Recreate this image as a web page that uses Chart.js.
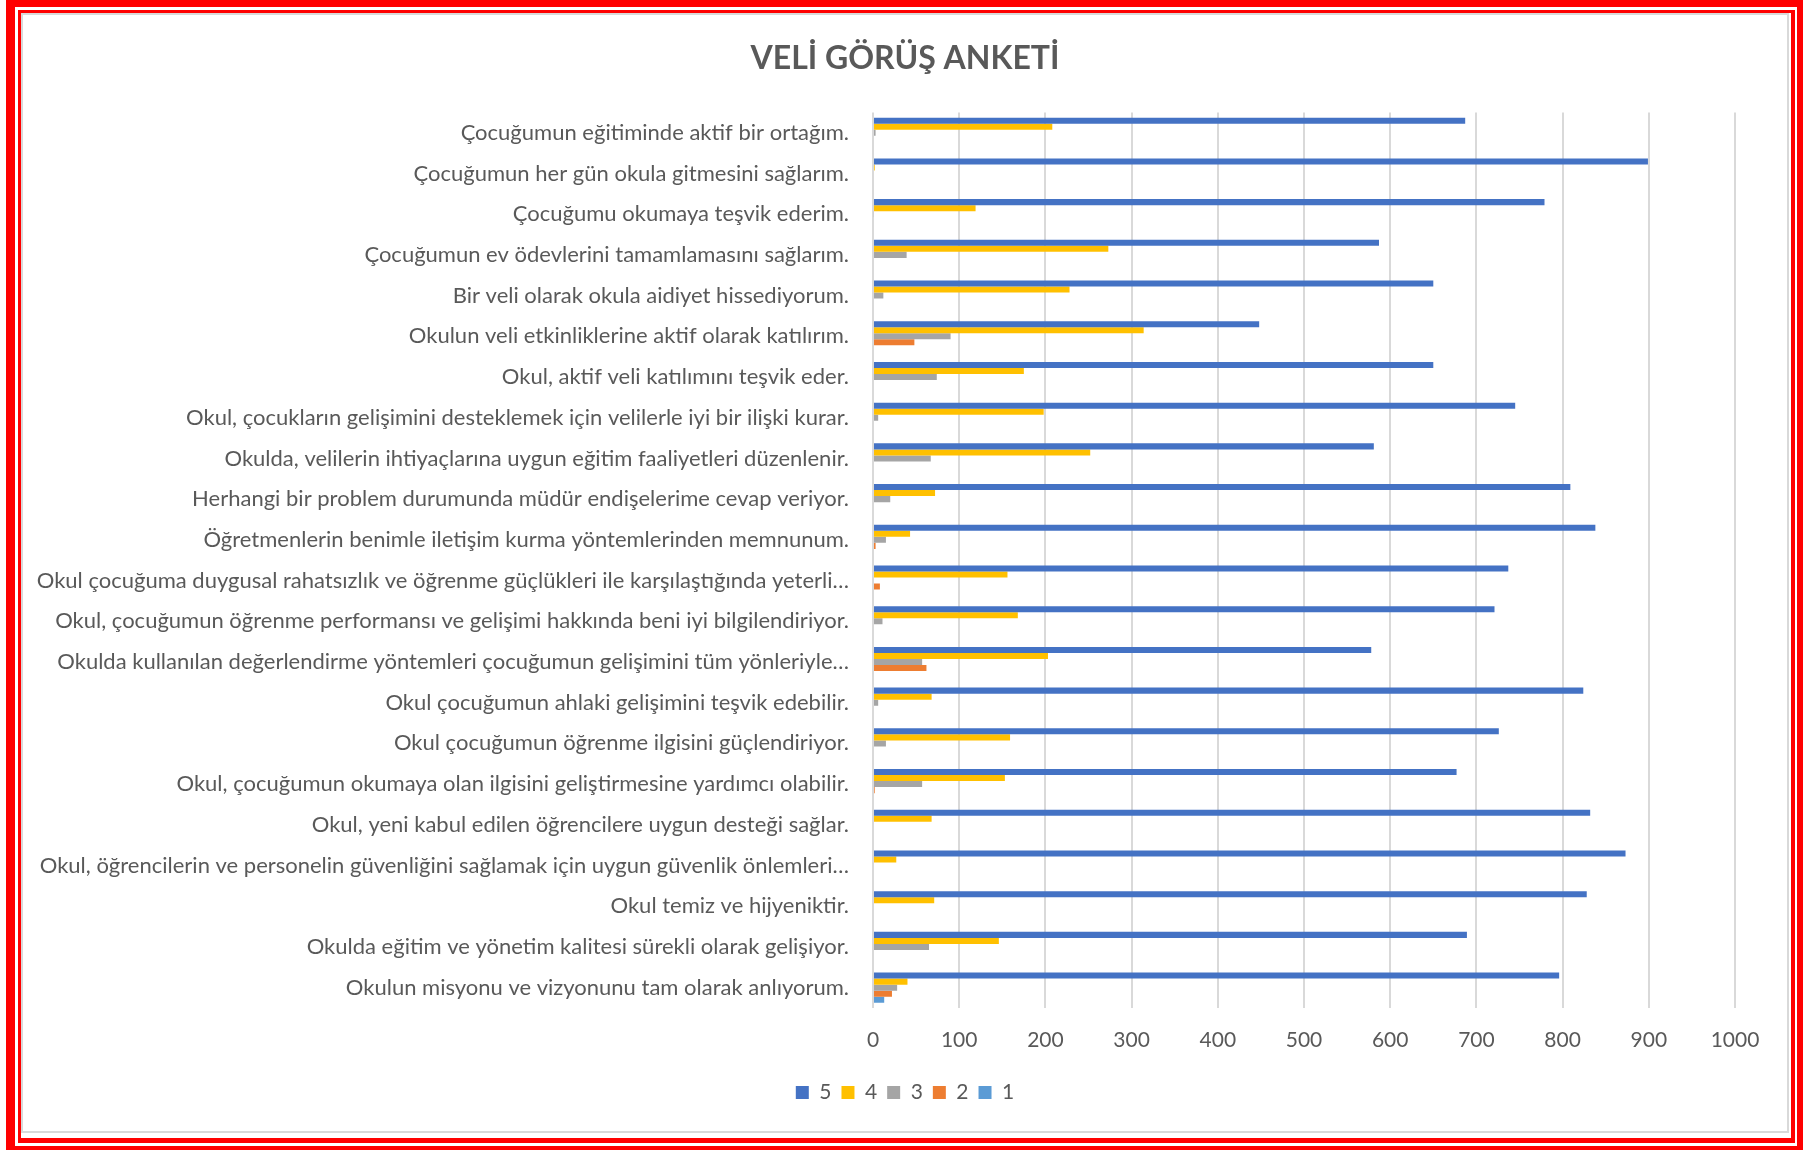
<!DOCTYPE html>
<html lang="tr">
<head>
<meta charset="utf-8">
<title>VELİ GÖRÜŞ ANKETİ</title>
<script src="https://cdn.jsdelivr.net/npm/chart.js@4.4.1/dist/chart.umd.min.js"></script>
<style>
  html, body { margin: 0; padding: 0; background: #fff; }
  body { width: 1803px; height: 1150px; position: relative; overflow: hidden; }
  .outer { position: absolute; left: 6px; top: 0; width: 1782px; height: 1139px;
           border-style: solid; border-color: #ff0000; border-width: 7px 6px 4px 9px; }
  .inner { position: absolute; left: 18px; top: 10px; width: 1770px; height: 1125px;
           border-style: solid; border-color: #ff0000; border-width: 3px 4px 5px 3px; background: #fff; }
  .frame { position: absolute; left: 21px; top: 13px; width: 1764px; height: 1116px;
           border: 2px solid #d9d9d9; background: #fff; }
  #chart { position: absolute; left: 23px; top: 15px; }
</style>
</head>
<body>
<div class="outer"></div>
<div class="inner"></div>
<div class="frame"></div>
<canvas id="chart" width="1764" height="1116"></canvas>
<script>
const questions = [
    "Çocuğumun eğitiminde aktif bir ortağım.",
    "Çocuğumun her gün okula gitmesini sağlarım.",
    "Çocuğumu okumaya teşvik ederim.",
    "Çocuğumun ev ödevlerini tamamlamasını sağlarım.",
    "Bir veli olarak okula aidiyet hissediyorum.",
    "Okulun veli etkinliklerine aktif olarak katılırım.",
    "Okul, aktif veli katılımını teşvik eder.",
    "Okul, çocukların gelişimini desteklemek için velilerle iyi bir ilişki kurar.",
    "Okulda, velilerin ihtiyaçlarına uygun eğitim faaliyetleri düzenlenir.",
    "Herhangi bir problem durumunda müdür endişelerime cevap veriyor.",
    "Öğretmenlerin benimle iletişim kurma yöntemlerinden memnunum.",
    "Okul çocuğuma duygusal rahatsızlık ve öğrenme güçlükleri ile karşılaştığında yeterli…",
    "Okul, çocuğumun öğrenme performansı ve gelişimi hakkında beni iyi bilgilendiriyor.",
    "Okulda kullanılan değerlendirme yöntemleri çocuğumun gelişimini tüm yönleriyle…",
    "Okul çocuğumun ahlaki gelişimini teşvik edebilir.",
    "Okul çocuğumun öğrenme ilgisini güçlendiriyor.",
    "Okul, çocuğumun okumaya olan ilgisini geliştirmesine yardımcı olabilir.",
    "Okul, yeni kabul edilen öğrencilere uygun desteği sağlar.",
    "Okul, öğrencilerin ve personelin güvenliğini sağlamak için uygun güvenlik önlemleri…",
    "Okul temiz ve hijyeniktir.",
    "Okulda eğitim ve yönetim kalitesi sürekli olarak gelişiyor.",
    "Okulun misyonu ve vizyonunu tam olarak anlıyorum."
];

// answer counts per score (5 = best)
const score5 = [687, 899, 779, 587, 650, 448, 650, 745, 581, 809, 838, 737, 721, 578, 824, 726, 677, 832, 873, 828, 689, 796];
const score4 = [208, 2, 119, 273, 228, 314, 175, 198, 252, 72, 43, 156, 168, 203, 68, 159, 153, 68, 27, 71, 146, 40];
const score3 = [3, 0, 1, 39, 12, 90, 74, 6, 67, 20, 15, 0, 11, 57, 6, 15, 57, 0, 0, 0, 65, 28];
const score2 = [0, 0, 0, 0, 0, 48, 0, 0, 0, 0, 3, 8, 0, 62, 0, 0, 2, 0, 0, 0, 0, 22];
const score1 = [0, 0, 0, 0, 0, 0, 0, 0, 0, 0, 0, 0, 0, 0, 0, 0, 0, 0, 0, 0, 0, 13];

const seriesNames = ["5", "4", "3", "2", "1"];
const seriesColors = ["#4472C4", "#FFC000", "#A5A5A5", "#ED7D31", "#5B9BD5"];
const xTicks = [0, 100, 200, 300, 400, 500, 600, 700, 800, 900, 1000];

const textGray = "#595959";
const fontName = "Lato";

const allScores = [score5, score4, score3, score2, score1];
const datasets = allScores.map((values, i) => ({
    label: seriesNames[i],
    data: values,
    backgroundColor: seriesColors[i],
    borderWidth: 0,
    categoryPercentage: 0.74,
    barPercentage: 1.0
}));

new Chart(document.getElementById("chart"), {
    type: "bar",
    data: { labels: questions, datasets: datasets },
    options: {
        indexAxis: "y",
        responsive: false,
        animation: false,
        layout: { padding: { left: 0, right: 0, top: 0, bottom: 18 } },
        scales: {
            x: {
                min: xTicks[0],
                max: xTicks[xTicks.length - 1],
                afterBuildTicks: (scale) => {
                    scale.ticks = xTicks.map(v => ({ value: v }));
                },
                afterFit: (scale) => {
                    scale.height = 64;
                    // leave room on the right without moving the centred title/legend
                    scale.paddingRight = 52;
                },
                grid: { color: "#d9d9d9", lineWidth: 2, drawTicks: false },
                border: { display: false },
                ticks: {
                    color: textGray,
                    padding: 20,
                    font: { family: fontName, size: 21 },
                    callback: (value) => String(value)
                }
            },
            y: {
                afterFit: (scale) => { scale.width = 850; },
                grid: { display: false, drawTicks: false },
                border: { display: false },
                ticks: {
                    color: textGray,
                    padding: 24,
                    autoSkip: false,
                    font: { family: fontName, size: 22 }
                }
            }
        },
        plugins: {
            title: {
                display: true,
                text: "VELİ GÖRÜŞ ANKETİ",
                color: textGray,
                font: { family: fontName, size: 32, weight: "bold" },
                padding: { top: 24, bottom: 35 }
            },
            legend: {
                position: "bottom",
                labels: {
                    color: textGray,
                    boxWidth: 13,
                    boxHeight: 13,
                    padding: 10,
                    font: { family: fontName, size: 21 }
                }
            },
            tooltip: { enabled: false }
        }
    }
});
</script>
</body>
</html>
